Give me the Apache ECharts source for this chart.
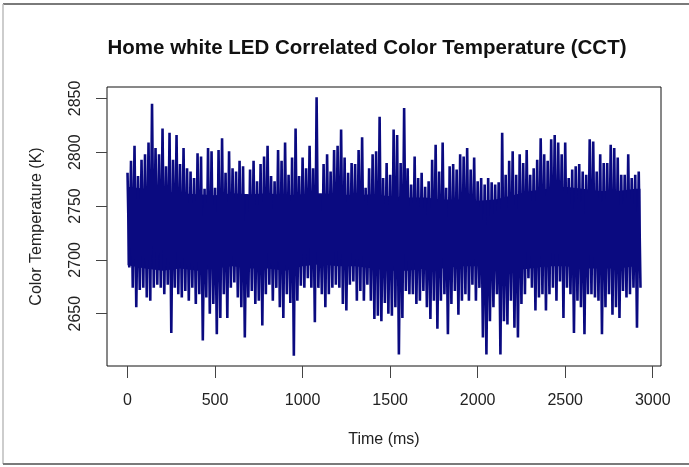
<!DOCTYPE html>
<html>
<head>
<meta charset="utf-8">
<script src="https://cdn.jsdelivr.net/npm/echarts@6/dist/echarts.min.js"></script>
<style>
html,body{margin:0;padding:0;background:#fff;}
#chart{width:689px;height:467px;}
</style>
</head>
<body>
<div id="chart"></div>
<script>
// Envelope of the CCT trace, one pair per 20 ms bin (K)
const upper = [
2781,2792,2806,2778,2793,2798,2809,2845,2804,2798,2822,2787,2818,2793,2816,2789,2804,2785,2782,2776,
2799,2796,2766,2804,2801,2767,2802,2813,2781,2801,2785,2782,2792,2787,2761,2784,2792,2773,2789,2796,
2806,2778,2773,2802,2792,2809,2779,2795,2822,2778,2795,2785,2806,2785,2851,2758,2789,2798,2782,2802,
2806,2821,2795,2781,2790,2789,2802,2814,2767,2785,2798,2801,2833,2776,2790,2779,2821,2816,2790,2841,
2785,2770,2796,2776,2781,2768,2773,2793,2807,2782,2809,2767,2787,2789,2784,2798,2796,2804,2784,2795,
2773,2776,2770,2776,2772,2770,2772,2818,2779,2792,2801,2779,2798,2790,2802,2779,2785,2793,2813,2798,
2792,2812,2816,2809,2798,2809,2776,2784,2787,2789,2782,2779,2812,2810,2782,2798,2790,2790,2807,2804,
2795,2779,2779,2798,2776,2779,2782
];
const lower = [
2693,2674,2656,2672,2674,2665,2662,2674,2677,2674,2668,2677,2632,2674,2668,2665,2671,2662,2674,2659,
2668,2625,2665,2650,2659,2631,2646,2668,2646,2674,2679,2665,2656,2628,2665,2671,2659,2662,2639,2668,
2677,2662,2674,2656,2646,2668,2660,2611,2662,2676,2674,2683,2674,2642,2674,2668,2656,2668,2674,2677,
2674,2659,2653,2677,2680,2662,2671,2662,2677,2662,2645,2648,2643,2660,2650,2648,2656,2612,2646,2671,
2668,2668,2659,2662,2671,2656,2645,2662,2636,2662,2668,2631,2659,2671,2649,2662,2668,2662,2677,2662,
2674,2628,2612,2643,2656,2668,2612,2643,2640,2662,2637,2628,2659,2668,2683,2674,2653,2665,2668,2653,
2668,2674,2662,2680,2646,2674,2668,2632,2662,2656,2631,2668,2668,2665,2662,2631,2656,2668,2649,2656,
2646,2671,2665,2668,2674,2637,2674
];
// solid (densely overdrawn) core of the trace, read every 100 ms (K)
const coreTimes = [0,100,200,300,400,500,600,700,800,900,1000,1100,1200,1300,1400,1500,1600,1700,1800,1900,2000,2100,2200,2300,2400,2500,2600,2700,2800,2900,2930];
const coreTop = [2768,2766,2764,2762,2761,2760,2762,2761,2762,2760,2761,2762,2761,2760,2761,2759,2758,2758,2756,2756,2755,2756,2760,2764,2766,2768,2766,2764,2764,2766,2766];
const coreBottom = [2695,2692,2690,2692,2690,2692,2694,2692,2692,2690,2694,2696,2694,2694,2692,2690,2690,2692,2692,2694,2694,2692,2690,2692,2694,2694,2692,2692,2692,2694,2696];

const binMs = 20;           // one bin per 20 ms
const xTicks = [0, 500, 1000, 1500, 2000, 2500, 3000];
const yTicks = [2650, 2700, 2750, 2800, 2850];
const titleText = 'Home white LED Correlated Color Temperature (CCT)';
const xName = 'Time (ms)';
const yName = 'Color Temperature (K)';

// build the trace: peak then trough within each bin
const trace = [];
for (let i = 0; i < upper.length; i++) {
  trace.push([i * binMs, upper[i]]);
  trace.push([i * binMs + binMs / 2, lower[i]]);
}
// R-style 4% axis extension
const xs = trace.map(p => p[0]), ys = trace.map(p => p[1]);
const xMin = Math.min(...xs), xMax = Math.max(...xs);
const yMin = Math.min(...ys), yMax = Math.max(...ys);
const xPad = (xMax - xMin) * 0.04, yPad = (yMax - yMin) * 0.04;

const NAVY = '#0a0a80';
const FONT = '"Liberation Sans", Arial, sans-serif';
const chart = echarts.init(document.getElementById('chart'), null, {renderer: 'canvas'});
chart.setOption({
  animation: false,
  backgroundColor: '#ffffff',
  title: {
    text: titleText,
    left: 362, top: 33, textAlign: 'center',
    textStyle: {fontFamily: FONT, fontSize: 20.5, fontWeight: 'bold', color: '#111'}
  },
  grid: {
    left: 107, top: 87, right: 28, bottom: 101,
    show: true, borderColor: '#111', borderWidth: 1, backgroundColor: 'transparent'
  },
  xAxis: {
    type: 'value', min: xMin - xPad, max: xMax + xPad,
    name: xName, nameLocation: 'middle', nameGap: 66, nameMoveOverlap: false,
    nameTextStyle: {fontFamily: FONT, fontSize: 16, color: '#222'},
    axisLine: {show: false, onZero: false},
    splitLine: {show: false},
    axisTick: {show: true, length: 12, customValues: xTicks, lineStyle: {color: '#444', width: 1}},
    axisLabel: {customValues: xTicks, margin: 27, fontFamily: FONT, fontSize: 16, color: '#222',
      formatter: v => String(v)}
  },
  yAxis: {
    type: 'value', min: yMin - yPad, max: yMax + yPad,
    name: yName, nameLocation: 'middle', nameGap: 62, nameRotate: 90, nameMoveOverlap: false,
    nameTextStyle: {fontFamily: FONT, fontSize: 16, color: '#222'},
    axisLine: {show: false, onZero: false},
    splitLine: {show: false},
    axisTick: {show: true, length: 11, customValues: yTicks, lineStyle: {color: '#444', width: 1}},
    axisLabel: {customValues: yTicks, rotate: 90, margin: 23, fontFamily: FONT, fontSize: 16, color: '#222',
      formatter: v => String(v)}
  },
  graphic: [
    {type: 'polyline', silent: true, shape: {points: [[689, 4], [3, 4]]}, style: {stroke: '#7a7a7a', lineWidth: 2, fill: null}},
    {type: 'polyline', silent: true, shape: {points: [[3, 4], [3, 464]]}, style: {stroke: '#bdbdbd', lineWidth: 1.5, fill: null}},
    {type: 'polyline', silent: true, shape: {points: [[3, 464], [689, 464]]}, style: {stroke: '#7a7a7a', lineWidth: 2, fill: null}}
  ],
  series: [
    {
      type: 'custom',
      silent: true,
      data: [0],
      renderItem: function (params, api) {
        const pts = [];
        for (let i = 0; i < coreTimes.length; i++) pts.push(api.coord([coreTimes[i], coreTop[i]]));
        for (let i = coreTimes.length - 1; i >= 0; i--) pts.push(api.coord([coreTimes[i], coreBottom[i]]));
        return {type: 'polygon', shape: {points: pts}, style: {fill: NAVY, stroke: null}};
      }
    },
    {
      type: 'line',
      data: trace,
      showSymbol: false,
      symbol: 'none',
      lineStyle: {color: NAVY, width: 2.6},
      silent: true
    }
  ]
});
</script>
</body>
</html>
